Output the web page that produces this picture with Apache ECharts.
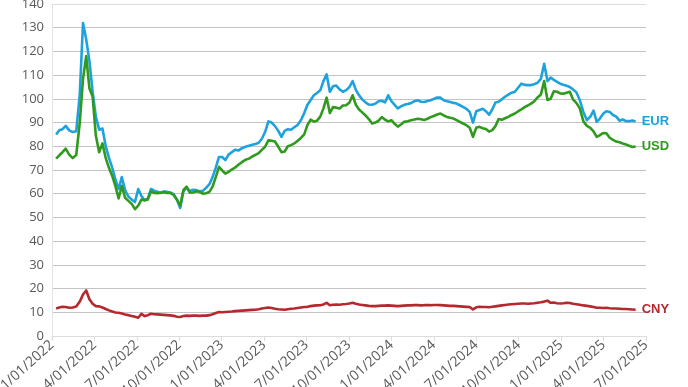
<!DOCTYPE html>
<html>
<head>
<meta charset="utf-8">
<script src="https://cdn.jsdelivr.net/npm/echarts@6/dist/echarts.min.js"></script>
<style>
html,body{margin:0;padding:0;background:#fff;}
#chart{width:688px;height:387px;}
</style>
</head>
<body>
<div id="chart"></div>
<script>
// Quarter tick labels (M/DD/YYYY)
const tickLabels = ['1/01/2022','4/01/2022','7/01/2022','10/01/2022','1/01/2023','4/01/2023','7/01/2023','10/01/2023','1/01/2024','4/01/2024','7/01/2024','10/01/2024','1/01/2025','4/01/2025','7/01/2025'];
// Weekly observations starting from this date
const startDate = '2022-01-10';
const stepDays = 7;
const seriesNames = ['EUR','USD','CNY'];

const eur = [85.0,86.8,87.2,88.6,86.7,86.0,86.3,102,132,125,116,103,92.5,87,87.5,80,75,71,66,62,
67,61.5,58.8,57.5,56.5,62,59,57.2,58,62,61.3,60.8,60.3,61,60.8,60.5,59.8,57.5,54,61,
62.5,61.2,61.7,61.5,61,61.2,62.5,64,67,71,75.5,75.5,74.2,76.5,77.5,78.5,78.2,79.2,79.8,80.2,
80.6,81,81.5,83.2,86,90.5,90,88.5,86.5,84,86.5,87.2,87,88,89,91,94,97.5,99.5,101.5,
102.5,103.6,107.5,110.3,103,105.3,105.6,104,103,103.7,105,107.5,103.8,101.5,99.8,98.5,97.6,97.5,98,99,
99.2,98.5,101.5,99,97.5,96,96.8,97.5,97.8,98.2,99,99.4,98.8,98.7,99.1,99.4,100,100.6,100.5,99.4,
99,98.7,98.3,98,97.3,96.6,95.8,94.5,90,94.8,95.3,95.8,94.8,93.3,95.5,98.5,98.8,99.8,100.9,101.8,
102.6,103,104.8,106.4,105.9,105.8,105.8,106.2,106.8,108.4,114.8,107.5,109,108,107.2,106.4,105.9,105.5,105,104,
102.8,99.5,94.5,91,92.5,95,90.3,91.7,93.7,94.8,94.5,93.2,92.5,90.8,91.3,90.6,90.6,90.9,90.5];

const usd = [74.8,76.2,77.5,79,76.5,75,76.3,90,108.5,118,104.5,101,84.5,77.5,81.2,75,70.8,67.5,63.2,58,
63.3,58.3,57,55.7,53.5,55,57.5,57.3,57.5,61,60.3,60.2,60.4,60.6,60.3,60.3,59.5,57.5,55,61.5,
63,60.5,60.5,61,60.8,60,60.2,60.8,63,67,71.3,69.8,68.5,69.2,70.2,71,72.2,73.3,74.3,74.8,
75.7,76.4,77.1,78.5,79.8,82.5,82.3,82,79.8,77.5,77.8,80,80.5,81.2,82.3,83.5,85,89,91.2,90.4,
90.8,92.5,96,100.5,94,96.5,96.3,95.9,97.2,97.3,98.5,101.5,97.5,95.5,94.3,93,91.5,89.6,90,90.8,
92.3,91.2,90.5,91,89.5,88.3,89.2,90.3,90.6,91,91.3,91.6,91.4,91.1,91.6,92.3,92.8,93.4,93.8,93,
92.4,92,91.7,91,90.3,89.6,88.9,87.8,84,87.8,88.2,87.6,87.3,86.2,86.8,88.5,91.5,91.2,91.8,92.4,
93.2,93.8,94.8,95.6,96.5,97.2,98,99,100.6,101.8,107.5,99.5,100,103.2,103,102.3,102.2,102.6,103,99.8,
98.3,96,90.5,88.6,87.8,86.3,84,84.7,85.6,85.5,83.6,82.7,82,81.7,81.2,80.8,80.2,79.7,79.9];

const cny = [11.6,12,12.3,12.2,11.9,12,12.4,14.5,17.5,19.2,15.5,13.6,12.6,12.5,12,11.4,10.8,10.3,9.9,9.8,
9.5,9.1,8.8,8.4,8.1,7.7,9.3,8.4,8.8,9.4,9.2,9.1,9.0,8.9,8.8,8.7,8.5,8.1,8.0,8.4,
8.6,8.5,8.6,8.6,8.5,8.6,8.6,8.8,9.2,9.7,10.1,10.0,10.1,10.2,10.3,10.5,10.6,10.7,10.8,10.9,
11.0,11.1,11.3,11.6,11.8,12.0,11.8,11.5,11.3,11.2,11.1,11.3,11.5,11.6,11.8,12.0,12.2,12.3,12.6,12.8,
12.9,13.0,13.3,14.0,13.0,13.2,13.3,13.2,13.4,13.5,13.7,14.0,13.6,13.3,13.1,12.9,12.7,12.6,12.6,12.7,
12.8,12.8,12.9,12.8,12.7,12.6,12.7,12.8,12.9,12.9,13.0,13.0,12.9,13.0,13.0,13.0,13.1,13.1,13.0,12.9,
12.8,12.7,12.7,12.6,12.5,12.4,12.3,12.2,11.2,12.1,12.3,12.2,12.2,12.1,12.3,12.5,12.7,12.9,13.1,13.3,
13.4,13.5,13.6,13.7,13.7,13.6,13.7,13.8,14.0,14.2,14.5,14.9,14.0,14.1,13.8,13.7,13.8,14.0,13.9,13.6,
13.4,13.2,12.9,12.7,12.5,12.2,11.9,11.9,11.8,11.9,11.7,11.6,11.6,11.5,11.4,11.4,11.3,11.2,11.1];

const colors = ['#1ea2dd','#2f9a1e','#b5282e'];

// x axis unit: months elapsed since the first tick label (1/01/2022)
const DAY = 86400000;
const p0 = tickLabels[0].split('/').map(Number);
const baseYear = p0[2];
function monthsOf(utcMs){
  const d = new Date(utcMs);
  const y = d.getUTCFullYear(), m = d.getUTCMonth(), day = d.getUTCDate();
  const dim = new Date(Date.UTC(y, m + 1, 0)).getUTCDate();
  return (y - baseYear) * 12 + m + (day - 1) / dim;
}
const sp = startDate.split('-').map(Number);
const t0 = Date.UTC(sp[0], sp[1] - 1, sp[2]);
const xs = eur.map((_, i) => monthsOf(t0 + i * stepDays * DAY));
const tickMonths = tickLabels.map(l => { const p = l.split('/').map(Number); return (p[2] - baseYear) * 12 + p[0] - 1; });
const xMin = tickMonths[0], xMax = tickMonths[tickMonths.length - 1];
const xInterval = tickMonths[1] - tickMonths[0];

function labelFor(v){
  const k = tickMonths.indexOf(Math.round(v));
  return k >= 0 ? tickLabels[k] : '';
}

const valuesList = [eur, usd, cny];
const series = seriesNames.map((name, s) => ({
  name: name,
  type: 'line',
  data: valuesList[s].map((v, i) => [xs[i], v]),
  showSymbol: false,
  symbol: 'none',
  lineStyle: { width: 2.6, color: colors[s], join: 'round' },
  itemStyle: { color: colors[s] },
  endLabel: {
    show: true,
    formatter: name,
    color: colors[s],
    fontFamily: 'Liberation Sans, Arial, sans-serif',
    fontWeight: 'bold',
    fontSize: 13,
    distance: 6
  },
  emphasis: { disabled: true },
  animation: false
}));

const splitColors = [];
for (let k = 0; k <= 14; k++) splitColors.push(k === 0 || k === 14 ? '#dcdcdc' : '#c3c3c3');

const chart = echarts.init(document.getElementById('chart'), null, { renderer: 'canvas' });
chart.setOption({
  animation: false,
  backgroundColor: '#ffffff',
  grid: { left: 52, right: 42, top: 4, bottom: 51, containLabel: false, outerBoundsMode: 'none' },
  xAxis: {
    type: 'value',
    min: xMin,
    max: xMax,
    interval: xInterval,
    axisLine: { show: true, onZero: false, lineStyle: { color: '#dcdcdc', width: 1 } },
    axisTick: { show: true, length: 5, lineStyle: { color: '#dcdcdc' } },
    axisLabel: {
      formatter: labelFor,
      rotate: 42,
      color: '#595959',
      fontFamily: 'Open Sans, sans-serif',
      fontSize: 14,
      margin: 7,
      showMinLabel: true,
      showMaxLabel: true
    },
    splitLine: { show: false }
  },
  yAxis: {
    type: 'value',
    min: 0,
    max: 140,
    interval: 10,
    axisLine: { show: true, lineStyle: { color: '#e3e3e3' } },
    axisTick: { show: false },
    axisLabel: { color: '#595959', fontFamily: 'Open Sans, sans-serif', fontSize: 13, margin: 8 },
    splitLine: { show: true, lineStyle: { color: splitColors, width: 1 } }
  },
  series: series
});
</script>
</body>
</html>
